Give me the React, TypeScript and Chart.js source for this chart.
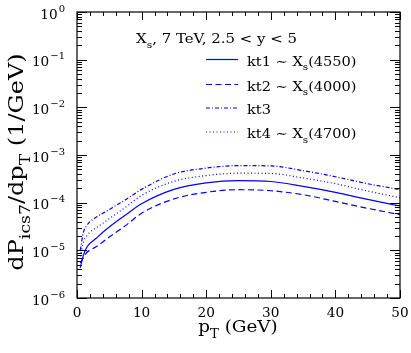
import React, { useEffect, useRef } from "react";
import { Chart, registerables } from "chart.js";

Chart.register(...registerables);

const pt = [0.5, 1, 1.5, 2, 3, 4, 5, 7.5, 10, 15, 20, 25, 30, 35, 40, 45, 50];
const kt1 = [4.3e-6, 8e-6, 1.15e-5, 1.4e-5, 1.8e-5, 2.4e-5, 3.1e-5, 5.5e-5, 9.5e-5, 1.9e-4, 2.6e-4, 2.9e-4, 2.78e-4, 2.2e-4, 1.65e-4, 1.17e-4, 8.5e-5];
const kt2 = [5.5e-6, 7e-6, 9e-6, 1e-5, 1.2e-5, 1.5e-5, 1.9e-5, 3.3e-5, 6e-5, 1.2e-4, 1.65e-4, 1.87e-4, 1.78e-4, 1.47e-4, 1.06e-4, 7.6e-5, 5.6e-5];
const kt3 = [1e-5, 2.4e-5, 3.3e-5, 4e-5, 5e-5, 6e-5, 7.2e-5, 1.15e-4, 1.9e-4, 4e-4, 5.3e-4, 6e-4, 5.9e-4, 4.7e-4, 3.5e-4, 2.5e-4, 1.88e-4];
const kt4 = [7.5e-6, 1.5e-5, 2e-5, 2.4e-5, 3e-5, 3.7e-5, 4.6e-5, 8e-5, 1.42e-4, 2.8e-4, 3.7e-4, 4.15e-4, 4.1e-4, 3.3e-4, 2.5e-4, 1.75e-4, 1.27e-4];

const xTicks = [0, 10, 20, 30, 40, 50];
const yExponents = [0, -1, -2, -3, -4, -5, -6];
const legendNames = ["kt1", "kt2", "kt3", "kt4"];
const legendRefs = ["4550", "4000", "", "4700"];
const titleText = ", 7 TeV, 2.5 < y < 5";

const FONT = "'DejaVu Serif', serif";
const BLUE = "rgb(0,0,255)";

type Part = { t: string; m?: "sub" | "sup" };

function richWidth(ctx: CanvasRenderingContext2D, parts: Part[], size: number) {
  let w = 0;
  for (const p of parts) {
    const s = p.m ? size * 0.72 : size;
    ctx.font = `${s}px ${FONT}`;
    w += ctx.measureText(p.t).width;
  }
  return w;
}

function drawRich(ctx: CanvasRenderingContext2D, x: number, y: number, parts: Part[], size: number, align: "left" | "center" | "right", sx = 1) {
  const w = richWidth(ctx, parts, size) * sx;
  const startX = align === "left" ? x : align === "center" ? x - w / 2 : x - w;
  ctx.save();
  ctx.translate(startX, y);
  ctx.scale(sx, 1);
  ctx.textAlign = "left";
  ctx.textBaseline = "alphabetic";
  let cx = 0;
  for (const p of parts) {
    const s = p.m ? size * 0.72 : size;
    ctx.font = `${s}px ${FONT}`;
    const dy = p.m === "sub" ? size * 0.35 : p.m === "sup" ? -size * 0.5 : 0;
    ctx.fillText(p.t, cx, dy);
    cx += ctx.measureText(p.t).width;
  }
  ctx.restore();
}

const decor = {
  id: "decor",
  afterDraw(chart: any) {
    const ctx: CanvasRenderingContext2D = chart.ctx;
    const a = chart.chartArea;
    const xs = chart.scales.x;
    const ys = chart.scales.y;
    ctx.save();
    ctx.strokeStyle = "#000";
    ctx.fillStyle = "#000";
    ctx.lineWidth = 1.2;
    ctx.setLineDash([]);
    ctx.strokeRect(a.left, a.top, a.right - a.left, a.bottom - a.top);
    ctx.lineWidth = 1;
    ctx.beginPath();
    for (let v = 0; v <= 50; v += 2) {
      const px = Math.round(xs.getPixelForValue(v)) + 0.5;
      const len = v % 10 === 0 ? 8 : 4;
      ctx.moveTo(px, a.bottom);
      ctx.lineTo(px, a.bottom - len);
      ctx.moveTo(px, a.top);
      ctx.lineTo(px, a.top + len);
    }
    for (let e = -6; e <= 0; e++) {
      for (let m = 1; m <= 9; m++) {
        if (e === 0 && m > 1) break;
        const py = Math.round(ys.getPixelForValue(m * Math.pow(10, e))) + 0.5;
        const len = m === 1 ? 10 : 5;
        ctx.moveTo(a.left, py);
        ctx.lineTo(a.left + len, py);
        ctx.moveTo(a.right, py);
        ctx.lineTo(a.right - len, py);
      }
    }
    ctx.stroke();

    // tick labels
    for (const v of xTicks) {
      drawRich(ctx, xs.getPixelForValue(v), 317, [{ t: String(v) }], 13, "center", 1.05);
    }
    for (const e of yExponents) {
      const py = ys.getPixelForValue(Math.pow(10, e));
      const expStr = e === 0 ? "0" : "\u2212" + String(-e);
      const supSize = 10;
      ctx.font = `${supSize}px ${FONT}`;
      const wsup = ctx.measureText(expStr).width;
      const base = py + 6.5;
      drawRich(ctx, 65 - wsup - 1, base, [{ t: "10" }], 13, "right", 1.05);
      ctx.font = `${supSize}px ${FONT}`;
      ctx.textAlign = "left";
      ctx.fillText(expStr, 65 - wsup, base - 7);
    }

    // axis titles
    drawRich(ctx, 238, 332, [{ t: "p" }, { t: "T", m: "sub" }, { t: " (GeV)" }], 17, "center", 1.08);
    ctx.save();
    ctx.translate(23, 162);
    ctx.rotate(-Math.PI / 2);
    drawRich(ctx, 0, 0, [{ t: "dP" }, { t: "ics7", m: "sub" }, { t: "/dp" }, { t: "T", m: "sub" }, { t: " (1/GeV)" }], 20, "center", 1.2);
    ctx.restore();

    // annotation
    drawRich(ctx, 136, 43, [{ t: "X" }, { t: "s", m: "sub" }, { t: titleText }], 13, "left", 1.15);

    // legend
    const rowsLine = [59.5, 84.5, 108, 132];
    chart.data.datasets.forEach((ds: any, i: number) => {
      const ly = rowsLine[i];
      ctx.strokeStyle = ds.borderColor;
      ctx.lineWidth = ds.borderWidth;
      ctx.setLineDash(ds.borderDash || []);
      ctx.beginPath();
      ctx.moveTo(206, ly);
      ctx.lineTo(238, ly);
      ctx.stroke();
      ctx.setLineDash([]);
      ctx.fillStyle = "#000";
      const parts: Part[] = [{ t: legendNames[i] }];
      if (legendRefs[i]) {
        parts.push({ t: " \u223C X" }, { t: "s", m: "sub" }, { t: "(" + legendRefs[i] + ")" });
      }
      drawRich(ctx, 247, ly + 6, parts, 13, "left", 1.12);
    });
    ctx.restore();
  },
};

export default function App() {
  const ref = useRef<HTMLCanvasElement | null>(null);
  useEffect(() => {
    if (!ref.current) return;
    const mk = (vals: number[]) => pt.map((x, i) => ({ x, y: vals[i] }));
    const chart = new Chart(ref.current, {
      type: "line",
      data: {
        datasets: [
          { data: mk(kt1), borderColor: BLUE, borderWidth: 1.2, borderDash: [], pointRadius: 0, cubicInterpolationMode: "monotone", fill: false },
          { data: mk(kt2), borderColor: BLUE, borderWidth: 1.2, borderDash: [6, 3.5], pointRadius: 0, cubicInterpolationMode: "monotone", fill: false },
          { data: mk(kt3), borderColor: BLUE, borderWidth: 1.2, borderDash: [4, 2, 1, 2], pointRadius: 0, cubicInterpolationMode: "monotone", fill: false },
          { data: mk(kt4), borderColor: BLUE, borderWidth: 1.2, borderDash: [1, 2.5], pointRadius: 0, cubicInterpolationMode: "monotone", fill: false },
        ] as any,
      },
      options: {
        animation: false,
        responsive: false,
        devicePixelRatio: 1,
        layout: { padding: { left: 77, right: 11, top: 12, bottom: 55 } },
        plugins: { legend: { display: false }, tooltip: { enabled: false } },
        scales: {
          x: { type: "linear", min: 0, max: 50, display: false },
          y: { type: "logarithmic", min: 1e-6, max: 1, display: false },
        },
      } as any,
      plugins: [decor],
    });
    return () => chart.destroy();
  }, []);
  return (
    <div style={{ position: "fixed", left: 0, top: 0, width: 411, height: 353, background: "#fff" }}>
      <canvas ref={ref} width={411} height={353} style={{ display: "block" }} />
    </div>
  );
}
